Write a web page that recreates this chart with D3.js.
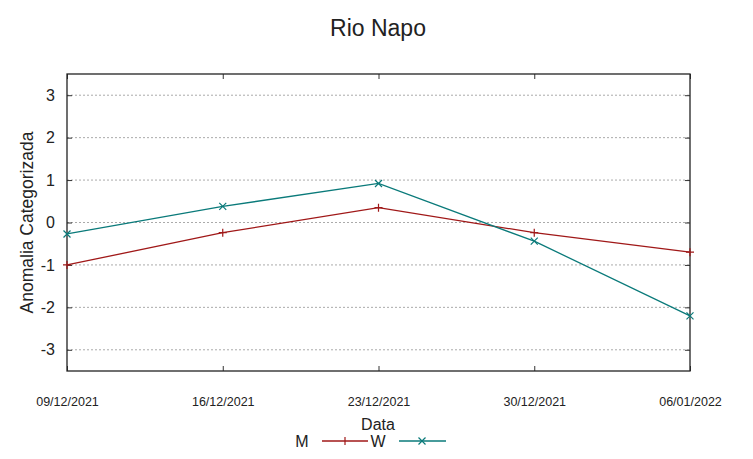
<!DOCTYPE html>
<html>
<head>
<meta charset="utf-8">
<script src="https://cdn.jsdelivr.net/npm/d3@7"></script>
<style>
  body { margin: 0; background: #fff; }
  text { font-family: "Liberation Sans", Arial, sans-serif; fill: #222; }
</style>
</head>
<body>
<div class="chart"></div>
<script>
// Chart data
var dates = ["09/12/2021", "16/12/2021", "23/12/2021", "30/12/2021", "06/01/2022"];
var seriesM = [-1.0, -0.24, 0.35, -0.24, -0.7];
var seriesW = [-0.27, 0.38, 0.92, -0.44, -2.2];
var yTicks = [-3, -2, -1, 0, 1, 2, 3];

var svgWidth = 753;
var svgHeight = 459;

var margin = { top: 74, bottom: 88, left: 67, right: 63 };

var width = svgWidth - margin.left - margin.right;
var height = svgHeight - margin.top - margin.bottom;

var svg = d3.select(".chart")
    .append("svg")
    .attr("width", svgWidth)
    .attr("height", svgHeight);

var chartGroup = svg.append("g")
    .attr("transform", `translate(${margin.left}, ${margin.top})`);

// Scales
var xScale = d3.scalePoint()
    .domain(dates)
    .range([0, width]);

var yScale = d3.scaleLinear()
    .domain([-3.5, 3.5])
    .range([height, 0]);

// Grid lines
chartGroup.selectAll(".grid")
    .data(yTicks)
    .enter()
    .append("line")
    .attr("x1", 0)
    .attr("x2", width)
    .attr("y1", d => yScale(d))
    .attr("y2", d => yScale(d))
    .attr("stroke", "#aaa")
    .attr("stroke-width", 1)
    .attr("stroke-dasharray", "2,2");

// Axes (ticks pointing inward)
var leftAxis = d3.axisLeft(yScale).tickValues(yTicks).tickSize(-5).tickPadding(12)
    .tickFormat(d => String(d));
var rightAxis = d3.axisRight(yScale).tickValues(yTicks).tickSize(-5).tickFormat("");
var bottomAxis = d3.axisBottom(xScale).tickSize(-5).tickPadding(26);
var topAxis = d3.axisTop(xScale).tickSize(-5).tickFormat("");

var gl = chartGroup.append("g").call(leftAxis);
var gr = chartGroup.append("g").attr("transform", `translate(${width},0)`).call(rightAxis);
var gb = chartGroup.append("g").attr("transform", `translate(0,${height})`).call(bottomAxis);
var gt = chartGroup.append("g").call(topAxis);

[gl, gr, gb, gt].forEach(function(g) {
    g.select(".domain").remove();
    g.selectAll("line").attr("stroke", "#333");
});
gl.selectAll("text").style("font-size", "16px").attr("fill", "#222");
gb.selectAll("text").style("font-size", "12.5px").attr("fill", "#222");

// Border
chartGroup.append("rect")
    .attr("width", width)
    .attr("height", height)
    .attr("fill", "none")
    .attr("stroke", "#222")
    .attr("stroke-width", 1.3);

// Lines
var line = d3.line()
    .x((d, i) => xScale(dates[i]))
    .y(d => yScale(d));

chartGroup.append("path")
    .datum(seriesM)
    .attr("d", line)
    .attr("fill", "none")
    .attr("stroke", "#a01818")
    .attr("stroke-width", 1.3);

chartGroup.append("path")
    .datum(seriesW)
    .attr("d", line)
    .attr("fill", "none")
    .attr("stroke", "#0a7a7a")
    .attr("stroke-width", 1.3);

// Markers
chartGroup.selectAll(".mPt")
    .data(seriesM)
    .enter()
    .append("path")
    .attr("d", "M-4,0H4M0,-4V4")
    .attr("transform", (d, i) => `translate(${xScale(dates[i])},${yScale(d)})`)
    .attr("stroke", "#a01818")
    .attr("stroke-width", 1.2);

chartGroup.selectAll(".wPt")
    .data(seriesW)
    .enter()
    .append("path")
    .attr("d", "M-3.5,-3.5L3.5,3.5M-3.5,3.5L3.5,-3.5")
    .attr("transform", (d, i) => `translate(${xScale(dates[i])},${yScale(d)})`)
    .attr("stroke", "#0a7a7a")
    .attr("stroke-width", 1.2);

// Title
svg.append("text")
    .attr("x", 378)
    .attr("y", 36)
    .attr("text-anchor", "middle")
    .style("font-size", "23px")
    .text("Rio Napo");

// Axis labels
svg.append("text")
    .attr("transform", "rotate(-90)")
    .attr("x", -(margin.top + height / 2))
    .attr("y", 33)
    .attr("text-anchor", "middle")
    .style("font-size", "17.5px")
    .text("Anomalia Categorizada");

svg.append("text")
    .attr("x", 378)
    .attr("y", 430)
    .attr("text-anchor", "middle")
    .style("font-size", "16px")
    .text("Data");

// Legend
var legend = svg.append("g");
legend.append("text").attr("x", 302).attr("y", 447).attr("text-anchor", "middle").style("font-size", "16px").text("M");
legend.append("line").attr("x1", 322).attr("x2", 368).attr("y1", 441).attr("y2", 441).attr("stroke", "#a01818").attr("stroke-width", 1.3);
legend.append("path").attr("d", "M0,-4V4").attr("transform", "translate(345,441)").attr("stroke", "#a01818").attr("stroke-width", 1.2);
legend.append("text").attr("x", 378).attr("y", 447).attr("text-anchor", "middle").style("font-size", "16px").text("W");
legend.append("line").attr("x1", 399).attr("x2", 446).attr("y1", 441).attr("y2", 441).attr("stroke", "#0a7a7a").attr("stroke-width", 1.3);
legend.append("path").attr("d", "M-3.5,-3.5L3.5,3.5M-3.5,3.5L3.5,-3.5").attr("transform", "translate(422,441)").attr("stroke", "#0a7a7a").attr("stroke-width", 1.2);
</script>
</body>
</html>
